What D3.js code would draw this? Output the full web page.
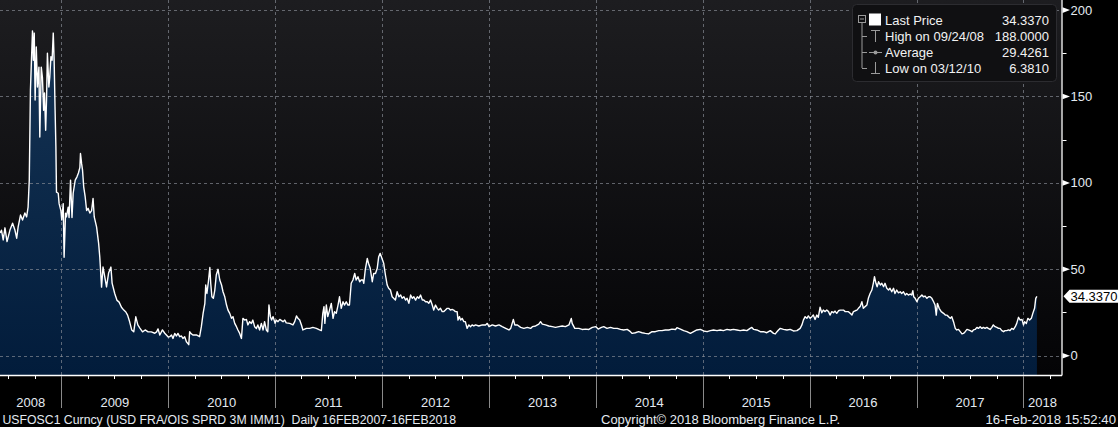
<!DOCTYPE html>
<html><head><meta charset="utf-8">
<script src="https://cdn.jsdelivr.net/npm/d3@7"></script>
<style>
html,body{margin:0;padding:0;background:#000;overflow:hidden}
svg{display:block;font-family:"Liberation Sans",Arial,sans-serif}
text{white-space:pre}
</style>
</head><body>
<svg id="c" width="1118" height="427"></svg>
<script>
// ---------------- DATA ----------------
const dates = [
"2008-06-05","2008-06-10","2008-06-16","2008-06-22","2008-06-29","2008-07-09","2008-07-18","2008-07-26","2008-08-01","2008-08-06",
"2008-08-14","2008-08-21","2008-08-29","2008-09-04","2008-09-09","2008-09-13","2008-09-17","2008-09-24","2008-09-27","2008-09-30",
"2008-10-03","2008-10-07","2008-10-11","2008-10-16","2008-10-19","2008-10-24","2008-10-28","2008-11-01","2008-11-04","2008-11-08",
"2008-11-11","2008-11-14","2008-11-19","2008-11-22","2008-11-26","2008-11-30","2008-12-04","2008-12-07","2008-12-10","2008-12-13",
"2008-12-15","2008-12-21","2008-12-24","2008-12-30",
"2009-01-02","2009-01-07","2009-01-10","2009-01-15","2009-01-18","2009-01-24","2009-01-27","2009-02-01","2009-02-06","2009-02-10",
"2009-02-17","2009-02-23","2009-02-28","2009-03-05","2009-03-07","2009-03-11","2009-03-14","2009-03-18","2009-03-23","2009-03-28",
"2009-04-02","2009-04-08","2009-04-14","2009-04-19","2009-04-23","2009-05-01","2009-05-08","2009-05-12","2009-05-18","2009-05-23",
"2009-05-29","2009-06-04","2009-06-11","2009-06-19","2009-06-23","2009-07-02","2009-07-10","2009-07-17","2009-07-25","2009-08-02",
"2009-08-09","2009-08-15","2009-08-22","2009-08-29","2009-09-05","2009-09-12","2009-09-19","2009-09-26","2009-10-05","2009-10-14",
"2009-10-24","2009-11-04","2009-11-16","2009-11-22","2009-11-27","2009-12-03","2009-12-12","2009-12-20",
"2010-01-01","2010-01-06","2010-01-12","2010-01-17","2010-01-23","2010-01-29","2010-02-03","2010-02-09","2010-02-15","2010-02-20",
"2010-02-26","2010-03-04","2010-03-12","2010-03-15","2010-03-19","2010-03-26","2010-04-07","2010-04-18","2010-04-24","2010-04-30",
"2010-05-06","2010-05-09","2010-05-13","2010-05-18","2010-05-23","2010-05-26","2010-05-30","2010-06-04","2010-06-09","2010-06-14",
"2010-06-20","2010-06-26","2010-07-02","2010-07-07","2010-07-13","2010-07-19","2010-07-24","2010-07-30","2010-08-05","2010-08-10",
"2010-08-16","2010-08-22","2010-08-27","2010-09-02","2010-09-08","2010-09-13","2010-09-19","2010-09-25","2010-09-30","2010-10-06",
"2010-10-12","2010-10-17","2010-10-23","2010-10-29","2010-11-03","2010-11-09","2010-11-15","2010-11-21","2010-11-26","2010-12-02",
"2010-12-07","2010-12-11","2010-12-16","2010-12-20","2010-12-25",
"2011-01-01","2011-01-05","2011-01-11","2011-01-17","2011-01-28","2011-02-03","2011-02-08","2011-02-20","2011-03-03","2011-03-09",
"2011-03-15","2011-03-20","2011-03-26","2011-04-01","2011-04-06","2011-04-18","2011-04-29","2011-05-10","2011-05-22","2011-06-02",
"2011-06-08","2011-06-13","2011-06-17","2011-06-20","2011-06-25","2011-06-30","2011-07-06","2011-07-12","2011-07-18","2011-07-23",
"2011-07-29","2011-08-04","2011-08-09","2011-08-15","2011-08-21","2011-08-26","2011-09-01","2011-09-07","2011-09-12","2011-09-18",
"2011-09-24","2011-09-30","2011-10-05","2011-10-11","2011-10-17","2011-10-22","2011-10-28","2011-10-31","2011-11-05","2011-11-12",
"2011-11-16","2011-11-22","2011-11-29","2011-12-04","2011-12-10","2011-12-16","2011-12-21","2011-12-26",
"2012-01-03","2012-01-07","2012-01-13","2012-01-19","2012-01-24","2012-01-30","2012-02-05","2012-02-16","2012-02-22","2012-02-28",
"2012-03-05","2012-03-10","2012-03-16","2012-03-22","2012-03-27","2012-04-02","2012-04-08","2012-04-14","2012-04-19","2012-04-25",
"2012-05-01","2012-05-06","2012-05-12","2012-05-18","2012-05-23","2012-05-29","2012-06-04","2012-06-09","2012-06-15","2012-06-21",
"2012-06-26","2012-07-02","2012-07-08","2012-07-13","2012-07-19","2012-07-25","2012-07-30","2012-08-05","2012-08-11","2012-08-16",
"2012-08-22","2012-08-28","2012-09-02","2012-09-08","2012-09-14","2012-09-17","2012-09-22","2012-09-26","2012-10-01","2012-10-07",
"2012-10-12","2012-10-18","2012-10-24","2012-10-30","2012-11-04","2012-11-10","2012-11-16","2012-11-27","2012-12-09","2012-12-20",
"2012-12-26",
"2013-01-01","2013-01-12","2013-01-23","2013-02-04","2013-02-15","2013-02-27","2013-03-10","2013-03-16","2013-03-21","2013-03-25",
"2013-03-30","2013-04-08","2013-04-19","2013-04-30","2013-05-12","2013-05-23","2013-05-29","2013-06-09","2013-06-20","2013-06-26",
"2013-07-02","2013-07-13","2013-07-24","2013-08-05","2013-08-16","2013-08-28","2013-09-08","2013-09-19","2013-10-01","2013-10-09",
"2013-10-12","2013-10-21","2013-11-04","2013-11-15","2013-11-27","2013-12-08","2013-12-20",
"2014-01-01","2014-01-09","2014-01-20","2014-01-28","2014-02-08","2014-02-20","2014-03-03","2014-03-15","2014-03-26","2014-04-06",
"2014-04-18","2014-04-29","2014-05-05","2014-05-16","2014-05-27","2014-06-08","2014-06-19","2014-06-30","2014-07-12","2014-07-23",
"2014-08-04","2014-08-15","2014-08-26","2014-09-07","2014-09-18","2014-09-30","2014-10-05","2014-10-17","2014-10-28","2014-11-08",
"2014-11-20","2014-12-01","2014-12-12","2014-12-24",
"2015-01-04","2015-01-16","2015-01-27","2015-02-07","2015-02-19","2015-03-02","2015-03-13","2015-03-25","2015-04-05","2015-04-16",
"2015-04-28","2015-05-09","2015-05-21","2015-06-01","2015-06-12","2015-06-18","2015-06-24","2015-07-05","2015-07-17","2015-07-28",
"2015-08-08","2015-08-20","2015-08-31","2015-09-06","2015-09-12","2015-09-17","2015-09-23","2015-10-04","2015-10-16","2015-10-27",
"2015-11-07","2015-11-19","2015-11-30","2015-12-06","2015-12-11","2015-12-17","2015-12-23","2015-12-28",
"2016-01-03","2016-01-09","2016-01-14","2016-01-20","2016-01-26","2016-01-31","2016-02-06","2016-02-12","2016-02-17","2016-02-23",
"2016-02-29","2016-03-06","2016-03-11","2016-03-17","2016-03-23","2016-03-28","2016-04-03","2016-04-09","2016-04-15","2016-04-26",
"2016-05-02","2016-05-13","2016-05-19","2016-05-25","2016-05-30","2016-06-05","2016-06-11","2016-06-16","2016-06-22","2016-06-28",
"2016-07-03","2016-07-09","2016-07-15","2016-07-20","2016-07-26","2016-08-01","2016-08-06","2016-08-10","2016-08-15","2016-08-19",
"2016-08-24","2016-08-30","2016-09-04","2016-09-10","2016-09-15","2016-09-21","2016-09-27","2016-10-02","2016-10-08","2016-10-14",
"2016-10-19","2016-10-25","2016-10-31","2016-11-06","2016-11-11","2016-11-17","2016-11-23","2016-11-28","2016-12-04","2016-12-10",
"2016-12-15","2016-12-19","2016-12-22","2016-12-27",
"2017-01-02","2017-01-07","2017-01-13","2017-01-19","2017-01-24","2017-01-30","2017-02-05","2017-02-11","2017-02-16","2017-02-22",
"2017-02-28","2017-03-05","2017-03-09","2017-03-13","2017-03-19","2017-03-26","2017-04-03","2017-04-09","2017-04-14","2017-04-20",
"2017-04-26","2017-05-01","2017-05-07","2017-05-13","2017-05-18","2017-05-24","2017-05-30","2017-06-05","2017-06-10","2017-06-16",
"2017-06-22","2017-06-27","2017-07-03","2017-07-09","2017-07-14","2017-07-20","2017-07-26","2017-07-31","2017-08-06","2017-08-12",
"2017-08-17","2017-08-23","2017-08-29","2017-09-03","2017-09-09","2017-09-15","2017-09-20","2017-09-26","2017-10-02","2017-10-08",
"2017-10-13","2017-10-19","2017-10-25","2017-10-30","2017-11-05","2017-11-11","2017-11-16","2017-11-22","2017-11-28","2017-12-04",
"2017-12-09","2017-12-15","2017-12-21","2017-12-27",
"2018-01-01","2018-01-05","2018-01-11","2018-01-16","2018-01-22","2018-01-28","2018-02-02","2018-02-08","2018-02-12","2018-02-16"
];
const values = [
71,72.6,67,74,66,72.7,76.7,72.7,68,74.5,
81.4,78.5,82.6,80.3,86,101.6,153.7,188,171,186.7,
148,178.6,155.5,167,126.5,167,161,142,152,130.5,
148,175,155.5,161,173,171,186.7,171,144,120.8,
94.6,94,88,84,
78.5,88,57,82.5,80.3,86,80,101.6,80,94,
101.6,103.5,105.7,109,117,111,107.4,97.7,92,84,
85.3,82.5,84,91,80.3,74.5,65,57,39.7,51.3,
45.6,39.8,47.8,51.3,42,36,32,31,28,26.4,
25.3,23.5,19.6,14.9,13.8,22.5,17.8,16,13.8,14.9,
13.8,13.8,13,13.8,15.5,12,14.9,13,
10.8,11,12,10,12.9,11.4,12.9,11,11.4,10,
11,8.1,6.381,13.9,12.9,12,12,11,16.8,24.5,
30.3,40.9,36,42.8,51,41.9,34.1,33.2,38,46.7,
50,43.8,40.9,37,34.1,29.3,26.4,24.5,21.6,22.6,
18.7,16.8,14.9,12.9,10,21.6,20.6,21,17.8,19.7,
18.7,20.6,16.8,15.8,17.8,14.9,18.7,14.9,19.7,14.9,
13.9,29.3,22.6,20.6,22.6,
18.7,20.6,19.7,21,19.7,20.6,19,18.7,17.8,19.7,
23,21.6,20.6,17.8,14.9,15.8,15.8,16.4,15.8,14.9,
14.5,24.5,28.4,18.7,29.3,22.6,26.4,30.3,21.6,25.5,
24.5,29.3,34.1,27.4,31.2,29.3,31.2,29.3,29.3,41.9,
43.8,47.6,43.8,45.7,42.8,43.8,43.8,41.9,49.6,56.3,
53.5,50.6,42.8,47.6,47.6,50.6,57.3,59.2,
55.4,53.5,46.7,40.9,39,38,34.1,32.2,37,34.1,
35.1,33.2,34.1,32.2,33.2,30.3,35.1,33.2,34.1,32.2,
34.1,33.2,35.1,32.2,32.2,31.2,31.2,30.3,32.2,29.3,
26.4,29.3,27.4,26.4,27.4,25.5,25.5,26.4,27.4,27.4,
26.4,26.8,26.4,25.5,25.5,20.6,22.6,20.6,21.6,19.7,
19.7,15.8,17.8,16.8,17.8,17.2,17.8,17.2,17.8,17.8,
18.7,
16.8,17.8,17.2,17.8,16.8,15.8,14.9,15.8,18.7,21,
17.8,17.8,16.4,15.8,16.4,15.8,16.8,17.2,18.3,19.7,
18.3,17.8,17.2,16.8,16.4,16.8,17.2,16.8,17.8,21.6,
18.7,15.8,15.8,15.2,15.4,15.2,16.4,
16.8,15.4,16.4,16.8,15.8,16.4,15.8,15.8,15.2,14.9,
15.2,13.9,12.9,13.3,13.9,13.3,12.9,12.6,13.9,13.9,
14.5,14.5,14.9,14.9,15.4,15.2,16.2,15.4,14.5,13.9,
12.9,13.9,14.9,15.2,
14.3,13.9,14.5,14.9,14.5,14.9,14.5,15.2,14.9,15.2,
14.9,14.5,14.9,14.5,15.8,16.4,15.2,14.9,13.9,13.9,
13.3,14.5,12.9,12.6,13.9,14.9,15.8,15.2,14.9,15.2,
14.3,14.5,15.8,17.8,20.6,22.6,21.6,23,
21.6,22.6,23.5,21,23.5,22.2,28,24.9,26.4,25.5,
26.4,25.5,23.5,25.5,24.9,25.8,24.5,26,26.4,26.4,
25.5,25.5,24.5,23.5,25.5,26,26.4,27.4,28.4,31.2,
27.4,28.4,29.3,33.2,36,38,41.9,45.7,41.9,39.9,
42.8,40.9,41.9,39.9,41.9,39,38,39,37,39,
36,38,36.4,37,36,37,35.1,36,35.1,35.7,
35.1,37.6,34.1,33.2,
31.2,33.2,34.1,35.1,34.1,34.5,33.2,34.1,34.1,33.2,
31.2,29.3,23.5,30.3,27.4,25.5,24.5,23.5,23.5,22.6,
21.6,22.6,19.7,15.8,14.9,15.2,13.9,12.6,12.9,13.9,
15.2,14.9,14.5,13.9,14.9,15.2,16.4,15.8,16.8,15.8,
16.4,15.8,16.4,15.8,15.2,16.4,17.8,16.8,16.4,15.8,
15.8,14.5,13.9,14.5,14.5,14.9,14.5,15.8,15.2,16.8,
18.7,22.2,20.6,21,
17.8,19.7,18.7,21.6,20.6,21.6,24.5,27.4,33.2,34.337
];
const yearLabels = ["2008","2009","2010","2011","2012","2013","2014","2015","2016","2017","2018"];
const yTicks = [0,50,100,150,200];
const yMinorTicks = [25,75,125,175];
const legendLabels = ["Last Price","High on 09/24/08","Average","Low on 03/12/10"];
const legendValues = ["34.3370","188.0000","29.4261","6.3810"];
const lastValueLabel = "34.3370";
const footerLeft = "USFOSC1 Curncy (USD FRA/OIS SPRD 3M IMM1)  Daily 16FEB2007-16FEB2018";
const footerMid = "Copyright\u00A9 2018 Bloomberg Finance L.P.";
const footerRight = "16-Feb-2018 15:52:40";
const xDomain = ["2008-06-05","2018-05-11"];
const yDomain = [-11.17, 205.84];

// ---------------- DRAW ----------------
const svg = d3.select("#c");
const plotR = 1061.5, plotB = 375;
const parse = d3.utcParse("%Y-%m-%d");
const data = dates.map((d,i)=>({date:parse(d), v:values[i]}));
const x = d3.scaleUtc().domain(xDomain.map(parse)).range([0, plotR]);
const y = d3.scaleLinear().domain(yDomain).range([plotB, 0]);
const txt = "#e4eaf1";

const defs = svg.append("defs");
const bg = defs.append("linearGradient").attr("id","bg").attr("x1",0).attr("y1",0).attr("x2",0).attr("y2",1);
bg.append("stop").attr("offset","0%").attr("stop-color","#1d1d20");
bg.append("stop").attr("offset","100%").attr("stop-color","#040406");
const ag = defs.append("linearGradient").attr("id","ag").attr("gradientUnits","userSpaceOnUse")
  .attr("x1",0).attr("y1",0).attr("x2",0).attr("y2",plotB);
ag.append("stop").attr("offset","0%").attr("stop-color","#173657");
ag.append("stop").attr("offset","100%").attr("stop-color","#021c3b");

svg.append("rect").attr("width",1118).attr("height",427).attr("fill","#000");
svg.append("rect").attr("x",0).attr("y",0).attr("width",plotR).attr("height",plotB).attr("fill","url(#bg)");

// area
svg.append("path").datum(data)
  .attr("d", d3.area().x(d=>x(d.date)).y0(plotB).y1(d=>y(d.v)))
  .attr("fill","url(#ag)");

// gridlines
const yearStarts = d3.utcYear.range(x.domain()[0], x.domain()[1]).filter(d=>x(d)>1);
const grid = svg.append("g").attr("stroke","#8c9199").attr("stroke-opacity",0.65)
  .attr("stroke-dasharray","3,3").attr("stroke-width",1);
grid.selectAll("line.h").data(yTicks).join("line")
  .attr("x1",0).attr("x2",plotR).attr("y1",d=>Math.round(y(d))+0.5).attr("y2",d=>Math.round(y(d))+0.5);
grid.selectAll("line.v").data(yearStarts).join("line")
  .attr("y1",0).attr("y2",plotB).attr("x1",d=>Math.round(x(d))+0.5).attr("x2",d=>Math.round(x(d))+0.5);

// line
svg.append("path").datum(data)
  .attr("d", d3.line().x(d=>x(d.date)).y(d=>y(d.v)))
  .attr("fill","none").attr("stroke","#ffffff").attr("stroke-width",1.4).attr("stroke-linejoin","round");

// axes lines
svg.append("line").attr("x1",0).attr("x2",plotR+0.5).attr("y1",plotB+0.5).attr("y2",plotB+0.5).attr("stroke","#fff").attr("stroke-width",1.3);
svg.append("line").attr("x1",plotR+0.5).attr("x2",plotR+0.5).attr("y1",0).attr("y2",plotB+0.5).attr("stroke","#fff").attr("stroke-width",1.3);

// bottom: quarterly ticks, year separators, year labels
const quarters = d3.utcMonth.every(3).range(x.domain()[0], x.domain()[1]);
svg.append("g").selectAll("line").data(quarters).join("line")
  .attr("x1",d=>Math.round(x(d))+0.5).attr("x2",d=>Math.round(x(d))+0.5)
  .attr("y1",plotB).attr("y2",plotB+4).attr("stroke","#fff").attr("stroke-width",1);
svg.append("g").selectAll("line").data(yearStarts).join("line")
  .attr("x1",d=>Math.round(x(d))+0.5).attr("x2",d=>Math.round(x(d))+0.5)
  .attr("y1",plotB+1).attr("y2",408).attr("stroke","#8a8a8a").attr("stroke-width",1);
const yearBounds = yearLabels.map(lbl=>{
  const s = parse(lbl+"-01-01"), e = parse((+lbl+1)+"-01-01");
  const a = Math.max(0, x(s)), b = Math.min(plotR, x(e));
  return {lbl, cx:(a+b)/2};
});
svg.append("g").selectAll("text").data(yearBounds).join("text")
  .attr("x",d=>d.cx).attr("y",406.5).attr("text-anchor","middle")
  .attr("font-size","13px").attr("fill",txt).text(d=>d.lbl);

// right axis
const ra = svg.append("g");
ra.selectAll("path").data(yTicks).join("path")
  .attr("d",d=>{const yy=y(d); return `M${plotR+1},${yy-2.8}L${plotR+8.5},${yy}L${plotR+1},${yy+2.8}Z`;})
  .attr("fill","#fff");
ra.selectAll("line").data(yMinorTicks).join("line")
  .attr("x1",plotR+1).attr("x2",plotR+5).attr("y1",d=>Math.round(y(d))+0.5).attr("y2",d=>Math.round(y(d))+0.5)
  .attr("stroke","#fff").attr("stroke-width",1);
ra.selectAll("text").data(yTicks).join("text")
  .attr("x",plotR+9).attr("y",d=>y(d)+4.5).attr("font-size","13px").attr("fill",txt).text(d=>d);

// last value tag
const lastPt = data[data.length-1];
const ly = y(lastPt.v);
svg.append("path")
  .attr("d",`M${plotR+2},${ly}L${plotR+8},${ly-6.5}L1118,${ly-6.5}L1118,${ly+6.5}L${plotR+8},${ly+6.5}Z`)
  .attr("fill","#fff");
svg.append("text").attr("x",plotR+9).attr("y",ly+4.5).attr("font-size","13px").attr("fill","#000").text(lastValueLabel);

// legend
const lg = svg.append("g");
lg.append("rect").attr("x",852.5).attr("y",4.5).attr("width",204).attr("height",77).attr("rx",4)
  .attr("fill","#101012").attr("stroke","#2c2c30").attr("stroke-width",1);
const rowY = [20,36,52,68];
const ic = "#9a9a9a";
lg.append("rect").attr("x",858.5).attr("y",15.5).attr("width",7).attr("height",7).attr("fill","none").attr("stroke",ic);
lg.append("line").attr("x1",860).attr("x2",864).attr("y1",19).attr("y2",19).attr("stroke",ic);
lg.append("line").attr("x1",862).attr("x2",862).attr("y1",23).attr("y2",rowY[3]).attr("stroke",ic);
lg.selectAll("line.br").data(rowY.slice(1)).join("line").attr("class","br")
  .attr("x1",862).attr("x2",867).attr("y1",d=>d+0.5).attr("y2",d=>d+0.5).attr("stroke",ic);
lg.append("rect").attr("x",869).attr("y",rowY[0]-6.5).attr("width",12).attr("height",12).attr("fill","#fff");
lg.append("line").attr("x1",871).attr("x2",880).attr("y1",rowY[1]-5.5).attr("y2",rowY[1]-5.5).attr("stroke",ic);
lg.append("line").attr("x1",875.5).attr("x2",875.5).attr("y1",rowY[1]-5.5).attr("y2",rowY[1]+6).attr("stroke",ic);
lg.append("line").attr("x1",869).attr("x2",882).attr("y1",rowY[2]+0.5).attr("y2",rowY[2]+0.5).attr("stroke",ic);
lg.append("circle").attr("cx",875.5).attr("cy",rowY[2]+0.5).attr("r",2).attr("fill",ic);
lg.append("line").attr("x1",875.5).attr("x2",875.5).attr("y1",rowY[3]-6).attr("y2",rowY[3]+5.5).attr("stroke",ic);
lg.append("line").attr("x1",871).attr("x2",880).attr("y1",rowY[3]+5.5).attr("y2",rowY[3]+5.5).attr("stroke",ic);
lg.selectAll("text.l").data(legendLabels).join("text").attr("class","l")
  .attr("x",885).attr("y",(d,i)=>rowY[i]+5).attr("font-size","13px").attr("fill","#f2f2f2").text(d=>d);
lg.selectAll("text.v").data(legendValues).join("text").attr("class","v")
  .attr("x",1049).attr("y",(d,i)=>rowY[i]+5).attr("text-anchor","end").attr("font-size","13px").attr("fill","#f2f2f2").text(d=>d);

// footer
svg.append("text").attr("x",2.5).attr("y",423.5).attr("font-size","12.5px").attr("fill",txt)
  .attr("textLength",453.5).attr("lengthAdjust","spacingAndGlyphs").text(footerLeft);
svg.append("text").attr("x",601).attr("y",423.5).attr("font-size","12.5px").attr("fill",txt)
  .attr("textLength",239).attr("lengthAdjust","spacingAndGlyphs").text(footerMid);
svg.append("text").attr("x",985.5).attr("y",423.5).attr("font-size","12.5px").attr("fill",txt)
  .attr("textLength",130.5).attr("lengthAdjust","spacingAndGlyphs").text(footerRight);
</script>
</body></html>
